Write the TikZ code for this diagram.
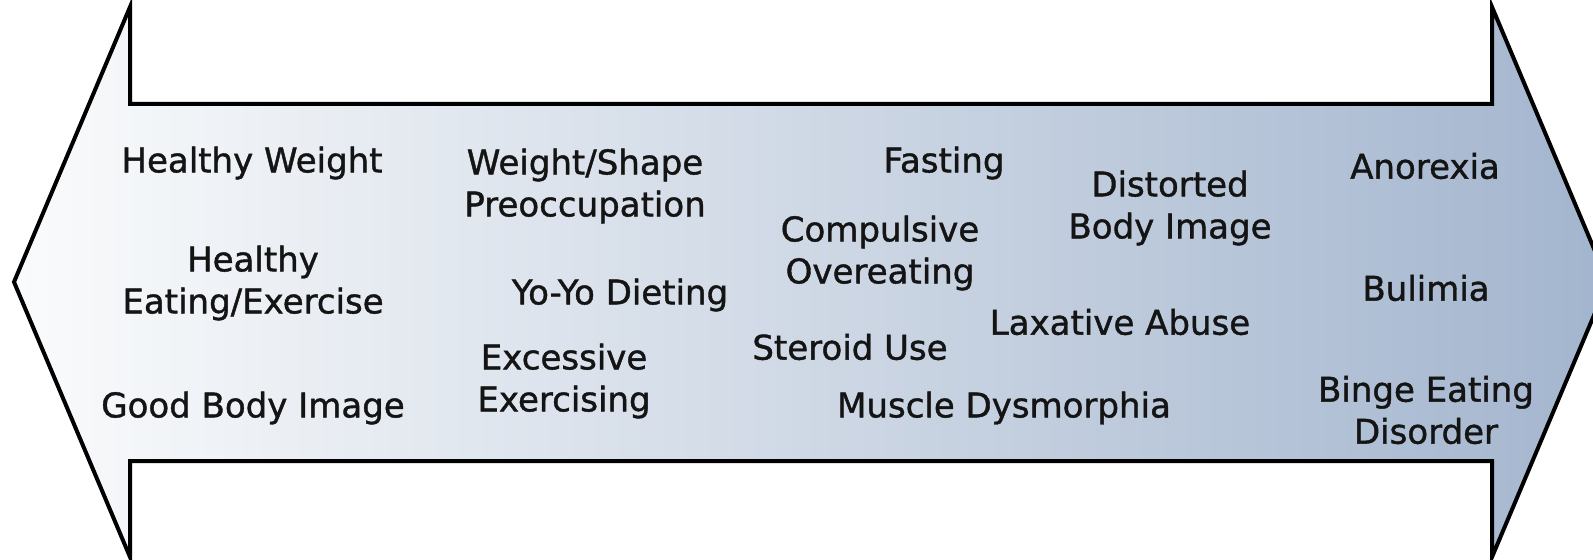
\documentclass[tikz,border=0pt]{standalone}
\usepackage{fontspec}
\setmainfont{DejaVu Sans}
\newfontfamily\spanfont{DejaVu Sans}[FakeBold=1.2]
\usetikzlibrary{positioning}
\definecolor{spanlight}{RGB}{250,251,252}
\definecolor{spandark}{RGB}{163,181,206}
\definecolor{spantext}{RGB}{20,20,20}

\begin{document}
\begin{tikzpicture}[
    x=0.5pt, y=-0.5pt,
    spectrum/.style={draw=black, line width=2pt, line join=miter, left color=spanlight, right color=spandark},
    lbl/.style={align=center, text=spantext, font=\spanfont\fontsize{17}{21}\selectfont, inner sep=0pt}
]
    \useasboundingbox (0,0) rectangle (1593,560);
    \begin{scope}
        \clip (0,0) rectangle (1593,560);
        \path[spectrum] (130,7) -- (130,104) -- (1492,104) -- (1492,7) -- (1608,282)
            -- (1492,557) -- (1492,461) -- (130,461) -- (130,557) -- (14,282) -- cycle;
    \end{scope}

    \node[lbl] (hweight) at (252,163) {Healthy Weight};
    \node[lbl] (heating) at (253,283) {Healthy\\Eating/Exercise};
    \node[lbl] (goodimg) at (253,408) {Good Body Image};
    \node[lbl] (preocc) at (585,186) {Weight/Shape\\Preoccupation};
    \node[lbl] (yoyo) at (620,295) {Yo-Yo Dieting};
    \node[lbl] (excess) at (564,381) {Excessive\\Exercising};
    \node[lbl] (fasting) at (944,163) {Fasting};
    \node[lbl] (compuls) at (880,253) {Compulsive\\Overeating};
    \node[lbl] (steroid) at (850,347) {Steroid Use};
    \node[lbl] (muscle) at (1004,408) {Muscle Dysmorphia};
    \node[lbl] (distort) at (1170,208) {Distorted\\Body Image};
    \node[lbl] (laxat) at (1120,322) {Laxative Abuse};
    \node[lbl] (anorex) at (1425,166) {Anorexia};
    \node[lbl] (bulim) at (1426,288) {Bulimia};
    \node[lbl] (binge) at (1426,410) {Binge Eating\\Disorder};
\end{tikzpicture}
\end{document}
